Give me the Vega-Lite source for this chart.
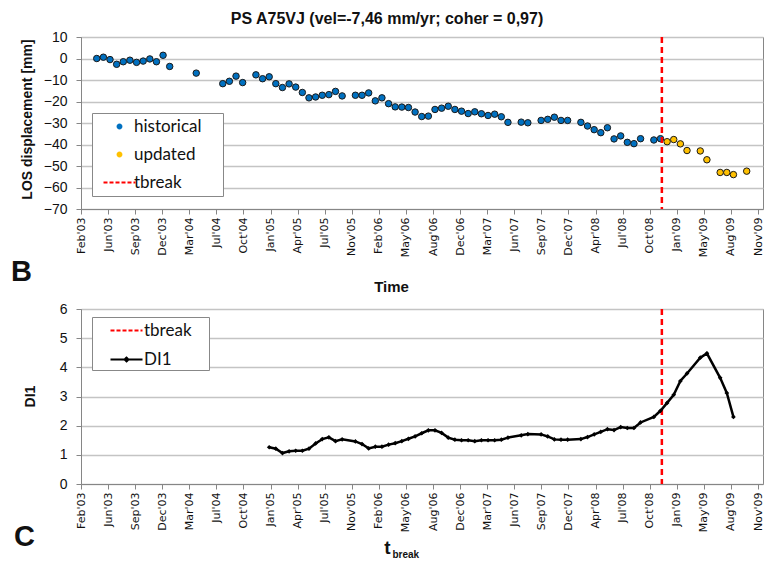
{
  "$schema": "https://vega.github.io/schema/vega-lite/v6.json",
  "background": "white",
  "padding": {"left": 10, "top": 10, "right": 5, "bottom": 4},
  "title": {"text": "PS A75VJ (vel=-7,46 mm/yr; coher = 0,97)", "font": "Liberation Sans", "fontSize": 16, "fontWeight": "bold", "anchor": "middle", "offset": 3, "color": "#111"},
  "spacing": 6,
  "datasets": {
    "disp": [
      {"date": "2003-04-26", "los": 0.0, "series": "historical"},
      {"date": "2003-05-20", "los": 0.6, "series": "historical"},
      {"date": "2003-06-13", "los": -0.5, "series": "historical"},
      {"date": "2003-07-07", "los": -2.7, "series": "historical"},
      {"date": "2003-07-31", "los": -1.5, "series": "historical"},
      {"date": "2003-08-24", "los": -0.8, "series": "historical"},
      {"date": "2003-09-17", "los": -1.8, "series": "historical"},
      {"date": "2003-10-11", "los": -1.2, "series": "historical"},
      {"date": "2003-11-04", "los": -0.2, "series": "historical"},
      {"date": "2003-11-28", "los": -1.5, "series": "historical"},
      {"date": "2003-12-22", "los": 1.5, "series": "historical"},
      {"date": "2004-01-15", "los": -3.7, "series": "historical"},
      {"date": "2004-04-20", "los": -6.8, "series": "historical"},
      {"date": "2004-07-25", "los": -11.7, "series": "historical"},
      {"date": "2004-08-18", "los": -10.6, "series": "historical"},
      {"date": "2004-09-11", "los": -8.2, "series": "historical"},
      {"date": "2004-10-05", "los": -11.2, "series": "historical"},
      {"date": "2004-11-22", "los": -7.6, "series": "historical"},
      {"date": "2004-12-16", "los": -9.4, "series": "historical"},
      {"date": "2005-01-09", "los": -8.5, "series": "historical"},
      {"date": "2005-02-02", "los": -11.7, "series": "historical"},
      {"date": "2005-02-26", "los": -13.5, "series": "historical"},
      {"date": "2005-03-22", "los": -11.8, "series": "historical"},
      {"date": "2005-04-15", "los": -13.3, "series": "historical"},
      {"date": "2005-05-09", "los": -15.8, "series": "historical"},
      {"date": "2005-06-02", "los": -18.3, "series": "historical"},
      {"date": "2005-06-26", "los": -17.9, "series": "historical"},
      {"date": "2005-07-20", "los": -17.1, "series": "historical"},
      {"date": "2005-08-13", "los": -16.8, "series": "historical"},
      {"date": "2005-09-06", "los": -15.3, "series": "historical"},
      {"date": "2005-09-30", "los": -17.4, "series": "historical"},
      {"date": "2005-11-17", "los": -17.1, "series": "historical"},
      {"date": "2005-12-11", "los": -17.1, "series": "historical"},
      {"date": "2006-01-04", "los": -16.0, "series": "historical"},
      {"date": "2006-01-28", "los": -19.7, "series": "historical"},
      {"date": "2006-02-21", "los": -18.3, "series": "historical"},
      {"date": "2006-03-17", "los": -21.0, "series": "historical"},
      {"date": "2006-04-10", "los": -22.5, "series": "historical"},
      {"date": "2006-05-04", "los": -22.6, "series": "historical"},
      {"date": "2006-05-28", "los": -22.8, "series": "historical"},
      {"date": "2006-06-21", "los": -24.9, "series": "historical"},
      {"date": "2006-07-15", "los": -27.0, "series": "historical"},
      {"date": "2006-08-08", "los": -26.8, "series": "historical"},
      {"date": "2006-09-01", "los": -23.7, "series": "historical"},
      {"date": "2006-09-25", "los": -23.1, "series": "historical"},
      {"date": "2006-10-19", "los": -22.2, "series": "historical"},
      {"date": "2006-11-12", "los": -23.7, "series": "historical"},
      {"date": "2006-12-06", "los": -24.5, "series": "historical"},
      {"date": "2006-12-30", "los": -25.6, "series": "historical"},
      {"date": "2007-01-23", "los": -24.8, "series": "historical"},
      {"date": "2007-02-16", "los": -25.7, "series": "historical"},
      {"date": "2007-03-12", "los": -26.5, "series": "historical"},
      {"date": "2007-04-05", "los": -25.9, "series": "historical"},
      {"date": "2007-04-29", "los": -27.1, "series": "historical"},
      {"date": "2007-05-23", "los": -29.7, "series": "historical"},
      {"date": "2007-07-10", "los": -29.6, "series": "historical"},
      {"date": "2007-08-03", "los": -29.9, "series": "historical"},
      {"date": "2007-09-20", "los": -28.8, "series": "historical"},
      {"date": "2007-10-14", "los": -28.3, "series": "historical"},
      {"date": "2007-11-07", "los": -27.3, "series": "historical"},
      {"date": "2007-12-01", "los": -28.8, "series": "historical"},
      {"date": "2007-12-25", "los": -28.8, "series": "historical"},
      {"date": "2008-02-11", "los": -29.7, "series": "historical"},
      {"date": "2008-03-06", "los": -31.4, "series": "historical"},
      {"date": "2008-03-30", "los": -33.1, "series": "historical"},
      {"date": "2008-04-23", "los": -34.5, "series": "historical"},
      {"date": "2008-05-17", "los": -32.2, "series": "historical"},
      {"date": "2008-06-10", "los": -37.4, "series": "historical"},
      {"date": "2008-07-04", "los": -36.0, "series": "historical"},
      {"date": "2008-07-28", "los": -39.0, "series": "historical"},
      {"date": "2008-08-21", "los": -39.6, "series": "historical"},
      {"date": "2008-09-14", "los": -37.3, "series": "historical"},
      {"date": "2008-11-01", "los": -37.9, "series": "historical"},
      {"date": "2008-11-25", "los": -37.3, "series": "historical"},
      {"date": "2008-12-19", "los": -38.7, "series": "updated"},
      {"date": "2009-01-12", "los": -37.7, "series": "updated"},
      {"date": "2009-02-05", "los": -39.7, "series": "updated"},
      {"date": "2009-03-01", "los": -42.8, "series": "updated"},
      {"date": "2009-04-18", "los": -43.0, "series": "updated"},
      {"date": "2009-05-12", "los": -47.1, "series": "updated"},
      {"date": "2009-06-29", "los": -53.0, "series": "updated"},
      {"date": "2009-07-23", "los": -53.0, "series": "updated"},
      {"date": "2009-08-16", "los": -54.0, "series": "updated"},
      {"date": "2009-10-03", "los": -52.4, "series": "updated"}
    ],
    "di": [
      {"date": "2005-01-09", "di1": 1.26, "series": "DI1"},
      {"date": "2005-02-02", "di1": 1.21, "series": "DI1"},
      {"date": "2005-02-26", "di1": 1.06, "series": "DI1"},
      {"date": "2005-03-22", "di1": 1.12, "series": "DI1"},
      {"date": "2005-04-15", "di1": 1.14, "series": "DI1"},
      {"date": "2005-05-09", "di1": 1.14, "series": "DI1"},
      {"date": "2005-06-02", "di1": 1.21, "series": "DI1"},
      {"date": "2005-06-26", "di1": 1.39, "series": "DI1"},
      {"date": "2005-07-20", "di1": 1.54, "series": "DI1"},
      {"date": "2005-08-13", "di1": 1.60, "series": "DI1"},
      {"date": "2005-09-06", "di1": 1.47, "series": "DI1"},
      {"date": "2005-09-30", "di1": 1.53, "series": "DI1"},
      {"date": "2005-11-17", "di1": 1.46, "series": "DI1"},
      {"date": "2005-12-11", "di1": 1.37, "series": "DI1"},
      {"date": "2006-01-04", "di1": 1.22, "series": "DI1"},
      {"date": "2006-01-28", "di1": 1.28, "series": "DI1"},
      {"date": "2006-02-21", "di1": 1.28, "series": "DI1"},
      {"date": "2006-03-17", "di1": 1.35, "series": "DI1"},
      {"date": "2006-04-10", "di1": 1.40, "series": "DI1"},
      {"date": "2006-05-04", "di1": 1.47, "series": "DI1"},
      {"date": "2006-05-28", "di1": 1.55, "series": "DI1"},
      {"date": "2006-06-21", "di1": 1.63, "series": "DI1"},
      {"date": "2006-07-15", "di1": 1.74, "series": "DI1"},
      {"date": "2006-08-08", "di1": 1.84, "series": "DI1"},
      {"date": "2006-09-01", "di1": 1.84, "series": "DI1"},
      {"date": "2006-09-25", "di1": 1.75, "series": "DI1"},
      {"date": "2006-10-19", "di1": 1.59, "series": "DI1"},
      {"date": "2006-11-12", "di1": 1.52, "series": "DI1"},
      {"date": "2006-12-06", "di1": 1.50, "series": "DI1"},
      {"date": "2006-12-30", "di1": 1.50, "series": "DI1"},
      {"date": "2007-01-23", "di1": 1.47, "series": "DI1"},
      {"date": "2007-02-16", "di1": 1.50, "series": "DI1"},
      {"date": "2007-03-12", "di1": 1.50, "series": "DI1"},
      {"date": "2007-04-05", "di1": 1.50, "series": "DI1"},
      {"date": "2007-04-29", "di1": 1.52, "series": "DI1"},
      {"date": "2007-05-23", "di1": 1.59, "series": "DI1"},
      {"date": "2007-07-10", "di1": 1.67, "series": "DI1"},
      {"date": "2007-08-03", "di1": 1.71, "series": "DI1"},
      {"date": "2007-09-20", "di1": 1.70, "series": "DI1"},
      {"date": "2007-10-14", "di1": 1.63, "series": "DI1"},
      {"date": "2007-11-07", "di1": 1.53, "series": "DI1"},
      {"date": "2007-12-01", "di1": 1.52, "series": "DI1"},
      {"date": "2007-12-25", "di1": 1.52, "series": "DI1"},
      {"date": "2008-02-11", "di1": 1.54, "series": "DI1"},
      {"date": "2008-03-06", "di1": 1.61, "series": "DI1"},
      {"date": "2008-03-30", "di1": 1.70, "series": "DI1"},
      {"date": "2008-04-23", "di1": 1.79, "series": "DI1"},
      {"date": "2008-05-17", "di1": 1.88, "series": "DI1"},
      {"date": "2008-06-10", "di1": 1.85, "series": "DI1"},
      {"date": "2008-07-04", "di1": 1.95, "series": "DI1"},
      {"date": "2008-07-28", "di1": 1.92, "series": "DI1"},
      {"date": "2008-08-21", "di1": 1.92, "series": "DI1"},
      {"date": "2008-09-14", "di1": 2.11, "series": "DI1"},
      {"date": "2008-11-01", "di1": 2.30, "series": "DI1"},
      {"date": "2008-11-25", "di1": 2.51, "series": "DI1"},
      {"date": "2008-12-19", "di1": 2.78, "series": "DI1"},
      {"date": "2009-01-12", "di1": 3.06, "series": "DI1"},
      {"date": "2009-02-05", "di1": 3.53, "series": "DI1"},
      {"date": "2009-03-01", "di1": 3.79, "series": "DI1"},
      {"date": "2009-04-18", "di1": 4.33, "series": "DI1"},
      {"date": "2009-05-12", "di1": 4.48, "series": "DI1"},
      {"date": "2009-06-29", "di1": 3.64, "series": "DI1"},
      {"date": "2009-07-23", "di1": 3.12, "series": "DI1"},
      {"date": "2009-08-16", "di1": 2.30, "series": "DI1"}
    ],
    "tb": [
      {"date": "2008-11-30", "series": "tbreak"}
    ]
  },
  "resolve": {"scale": {"x": "independent", "y": "independent", "color": "independent"}, "legend": {"color": "independent"}},
  "vconcat": [
    {
      "width": 682,
      "height": 172,
      "title": {"text": "B", "orient": "bottom", "anchor": "start", "frame": "bounds", "font": "Liberation Sans", "fontSize": 29, "fontWeight": "bold", "color": "#111", "dx": -9, "dy": -36, "offset": 0},
      "encoding": {
        "x": {
          "field": "date", "type": "temporal",
          "scale": {"type": "utc", "nice": false, "domain": [{"year": 2003, "month": 2, "date": 28, "utc": true}, {"year": 2009, "month": 12, "date": 1, "utc": true}]},
          "axis": {
            "values": [
              {"year": 2003, "month": 2, "date": 28, "utc": true}, {"year": 2003, "month": 6, "date": 6, "utc": true}, {"year": 2003, "month": 9, "date": 12, "utc": true}, {"year": 2003, "month": 12, "date": 19, "utc": true},
              {"year": 2004, "month": 3, "date": 26, "utc": true}, {"year": 2004, "month": 7, "date": 2, "utc": true}, {"year": 2004, "month": 10, "date": 8, "utc": true},
              {"year": 2005, "month": 1, "date": 14, "utc": true}, {"year": 2005, "month": 4, "date": 22, "utc": true}, {"year": 2005, "month": 7, "date": 29, "utc": true}, {"year": 2005, "month": 11, "date": 4, "utc": true},
              {"year": 2006, "month": 2, "date": 10, "utc": true}, {"year": 2006, "month": 5, "date": 19, "utc": true}, {"year": 2006, "month": 8, "date": 25, "utc": true}, {"year": 2006, "month": 12, "date": 1, "utc": true},
              {"year": 2007, "month": 3, "date": 9, "utc": true}, {"year": 2007, "month": 6, "date": 15, "utc": true}, {"year": 2007, "month": 9, "date": 21, "utc": true}, {"year": 2007, "month": 12, "date": 28, "utc": true},
              {"year": 2008, "month": 4, "date": 4, "utc": true}, {"year": 2008, "month": 7, "date": 11, "utc": true}, {"year": 2008, "month": 10, "date": 17, "utc": true},
              {"year": 2009, "month": 1, "date": 23, "utc": true}, {"year": 2009, "month": 5, "date": 1, "utc": true}, {"year": 2009, "month": 8, "date": 7, "utc": true}, {"year": 2009, "month": 11, "date": 13, "utc": true}
            ],
            "format": "%b'%y", "labelAngle": 270, "labelFont": "DejaVu Sans", "labelFontSize": 11, "labelPadding": 3, "labelOverlap": false, "labelFlush": false, "labelBound": false,
            "tickSize": 5, "grid": false,
            "title": "Time", "titleFont": "Liberation Sans", "titleFontSize": 15, "titleFontWeight": "bold", "titleX": 310, "titleY": 82, "titleAlign": "center", "titleBaseline": "alphabetic"
          }
        },
        "color": {
          "field": "series", "type": "nominal",
          "scale": {"domain": ["historical", "updated", "tbreak"], "range": ["#0070C0", "#FFC000", "#FF0000"]},
          "legend": {
            "orient": "none", "legendX": 11, "legendY": 76, "title": null,
            "strokeColor": "#888888", "fillColor": "white", "padding": 5,
            "symbolSize": 400, "symbolType": "M-1.6,0H1.6", "rowPadding": 10,
            "labelFont": "Lato", "labelFontSize": 17, "labelColor": "#111", "labelOffset": 6, "symbolOffset": 14,
            "encode": {"symbols": {"update": {
              "shape": {"signal": "datum.value === 'tbreak' ? 'M-1.6,0H1.6M9.4,0L9.4,0' : 'circle'"},
              "size": {"signal": "datum.value === 'tbreak' ? 400 : 28"},
              "fill": {"signal": "datum.value === 'historical' ? '#0070C0' : (datum.value === 'updated' ? '#FFC000' : 'transparent')"},
              "stroke": {"signal": "datum.value === 'tbreak' ? '#FF0000' : '#444444'"},
              "strokeWidth": {"signal": "datum.value === 'tbreak' ? 2.2 : 0.5"},
              "strokeDash": {"signal": "datum.value === 'tbreak' ? [4, 2] : [1, 0]"},
              "opacity": {"value": 1}
            }}}
          }
        }
      },
      "layer": [
        {
          "data": {"name": "disp"},
          "mark": {"type": "point", "filled": true, "size": 42, "stroke": "#1a1a1a", "strokeWidth": 1, "opacity": 1},
          "encoding": {
            "y": {
              "field": "los", "type": "quantitative",
              "scale": {"domain": [-70, 10], "nice": false},
              "axis": {"values": [-70, -60, -50, -40, -30, -20, -10, 0, 10], "grid": true, "tickSize": 5, "labelFont": "Liberation Sans", "labelFontSize": 14, "labelPadding": 9,
                       "title": "LOS displacement [mm]", "titleFont": "Liberation Sans", "titleFontSize": 14, "titleFontWeight": "bold", "titleX": -54, "titleY": 82, "titleAngle": 270, "titleAlign": "center", "titleBaseline": "middle"}
            }
          }
        },
        {
          "data": {"name": "tb"},
          "mark": {"type": "rule", "strokeDash": [6, 4], "strokeWidth": 2.5}
        }
      ]
    },
    {
      "width": 682,
      "height": 175,
      "title": {"text": "C", "orient": "bottom", "anchor": "start", "frame": "bounds", "font": "Liberation Sans", "fontSize": 29, "fontWeight": "bold", "color": "#111", "dx": -9, "dy": -36, "offset": 0},
      "resolve": {"axis": {"x": "independent"}},
      "layer": [
        {
          "data": {"name": "tb"},
          "mark": {"type": "rule", "strokeDash": [6, 4], "strokeWidth": 2.5},
          "encoding": {
            "x": {"field": "date", "type": "temporal",
                  "scale": {"type": "utc", "nice": false, "domain": [{"year": 2003, "month": 2, "date": 28, "utc": true}, {"year": 2009, "month": 12, "date": 1, "utc": true}]},
                  "axis": {"orient": "bottom", "labels": false, "ticks": false, "domain": false, "grid": false,
                           "title": "break", "titleFont": "Liberation Sans", "titleFontSize": 10, "titleFontWeight": "bold", "titleX": 311, "titleY": 73, "titleAlign": "left", "titleBaseline": "alphabetic"}},
            "color": {
              "field": "series", "type": "nominal",
              "scale": {"domain": ["tbreak", "DI1"], "range": ["#FF0000", "#000000"]},
              "legend": {
                "orient": "none", "legendX": 11, "legendY": 8, "title": null,
                "strokeColor": "#888888", "fillColor": "white", "padding": 2,
                "symbolSize": 400, "symbolType": "M-1.6,0H1.6", "rowPadding": 9,
                "labelFont": "Lato", "labelFontSize": 17, "labelColor": "#111", "labelOffset": 6, "symbolOffset": 21,
                "encode": {"symbols": {"update": {
                  "shape": {"signal": "datum.value === 'tbreak' ? 'M-1.6,0H1.6M7.6,0L7.6,0' : 'M-1.6,0H1.6M-0.18,0L0,-0.18L0.18,0L0,0.18Z'"},
                  "size": {"value": 400},
                  "fill": {"signal": "datum.value === 'tbreak' ? 'transparent' : '#000000'"},
                  "stroke": {"signal": "datum.value === 'tbreak' ? '#FF0000' : '#000000'"},
                  "strokeWidth": {"value": 2.2},
                  "strokeDash": {"signal": "datum.value === 'tbreak' ? [4, 2] : [1, 0]"},
                  "opacity": {"value": 1}
                }}}
              }
            }
          }
        },
        {
          "data": {"name": "di"},
          "mark": {"type": "line", "strokeWidth": 2.5, "point": {"shape": "diamond", "size": 22, "filled": true, "color": "#000000"}},
          "encoding": {
            "x": {"field": "date", "type": "temporal",
                  "axis": {
                    "orient": "bottom",
                    "values": [
                      {"year": 2003, "month": 2, "date": 28, "utc": true}, {"year": 2003, "month": 6, "date": 6, "utc": true}, {"year": 2003, "month": 9, "date": 12, "utc": true}, {"year": 2003, "month": 12, "date": 19, "utc": true},
                      {"year": 2004, "month": 3, "date": 26, "utc": true}, {"year": 2004, "month": 7, "date": 2, "utc": true}, {"year": 2004, "month": 10, "date": 8, "utc": true},
                      {"year": 2005, "month": 1, "date": 14, "utc": true}, {"year": 2005, "month": 4, "date": 22, "utc": true}, {"year": 2005, "month": 7, "date": 29, "utc": true}, {"year": 2005, "month": 11, "date": 4, "utc": true},
                      {"year": 2006, "month": 2, "date": 10, "utc": true}, {"year": 2006, "month": 5, "date": 19, "utc": true}, {"year": 2006, "month": 8, "date": 25, "utc": true}, {"year": 2006, "month": 12, "date": 1, "utc": true},
                      {"year": 2007, "month": 3, "date": 9, "utc": true}, {"year": 2007, "month": 6, "date": 15, "utc": true}, {"year": 2007, "month": 9, "date": 21, "utc": true}, {"year": 2007, "month": 12, "date": 28, "utc": true},
                      {"year": 2008, "month": 4, "date": 4, "utc": true}, {"year": 2008, "month": 7, "date": 11, "utc": true}, {"year": 2008, "month": 10, "date": 17, "utc": true},
                      {"year": 2009, "month": 1, "date": 23, "utc": true}, {"year": 2009, "month": 5, "date": 1, "utc": true}, {"year": 2009, "month": 8, "date": 7, "utc": true}, {"year": 2009, "month": 11, "date": 13, "utc": true}
                    ],
                    "format": "%b'%y", "labelAngle": 270, "labelFont": "DejaVu Sans", "labelFontSize": 11, "labelPadding": 3, "labelOverlap": false, "labelFlush": false, "labelBound": false,
                    "tickSize": 5, "grid": false,
                    "title": "t", "titleFont": "Liberation Sans", "titleFontSize": 19, "titleFontWeight": "bold", "titleX": 306, "titleY": 69, "titleAlign": "center", "titleBaseline": "alphabetic"
                  }},
            "y": {
              "field": "di1", "type": "quantitative",
              "scale": {"domain": [0, 6], "nice": false},
              "axis": {"values": [0, 1, 2, 3, 4, 5, 6], "grid": true, "tickSize": 5, "labelFont": "Liberation Sans", "labelFontSize": 14, "labelPadding": 9,
                       "title": "DI1", "titleFont": "Liberation Sans", "titleFontSize": 14, "titleFontWeight": "bold", "titleX": -51, "titleY": 87, "titleAngle": 270, "titleAlign": "center", "titleBaseline": "middle"}
            },
            "color": {"field": "series", "type": "nominal"}
          }
        }
      ]
    }
  ],
  "config": {
    "view": {"stroke": "#868686", "strokeWidth": 1},
    "axis": {"domainColor": "#868686", "tickColor": "#868686", "gridColor": "#C4C4C4", "gridWidth": 1.5, "labelColor": "#111111", "titleColor": "#111111"},
    "axisX": {"labelOverlap": false}
  }
}
